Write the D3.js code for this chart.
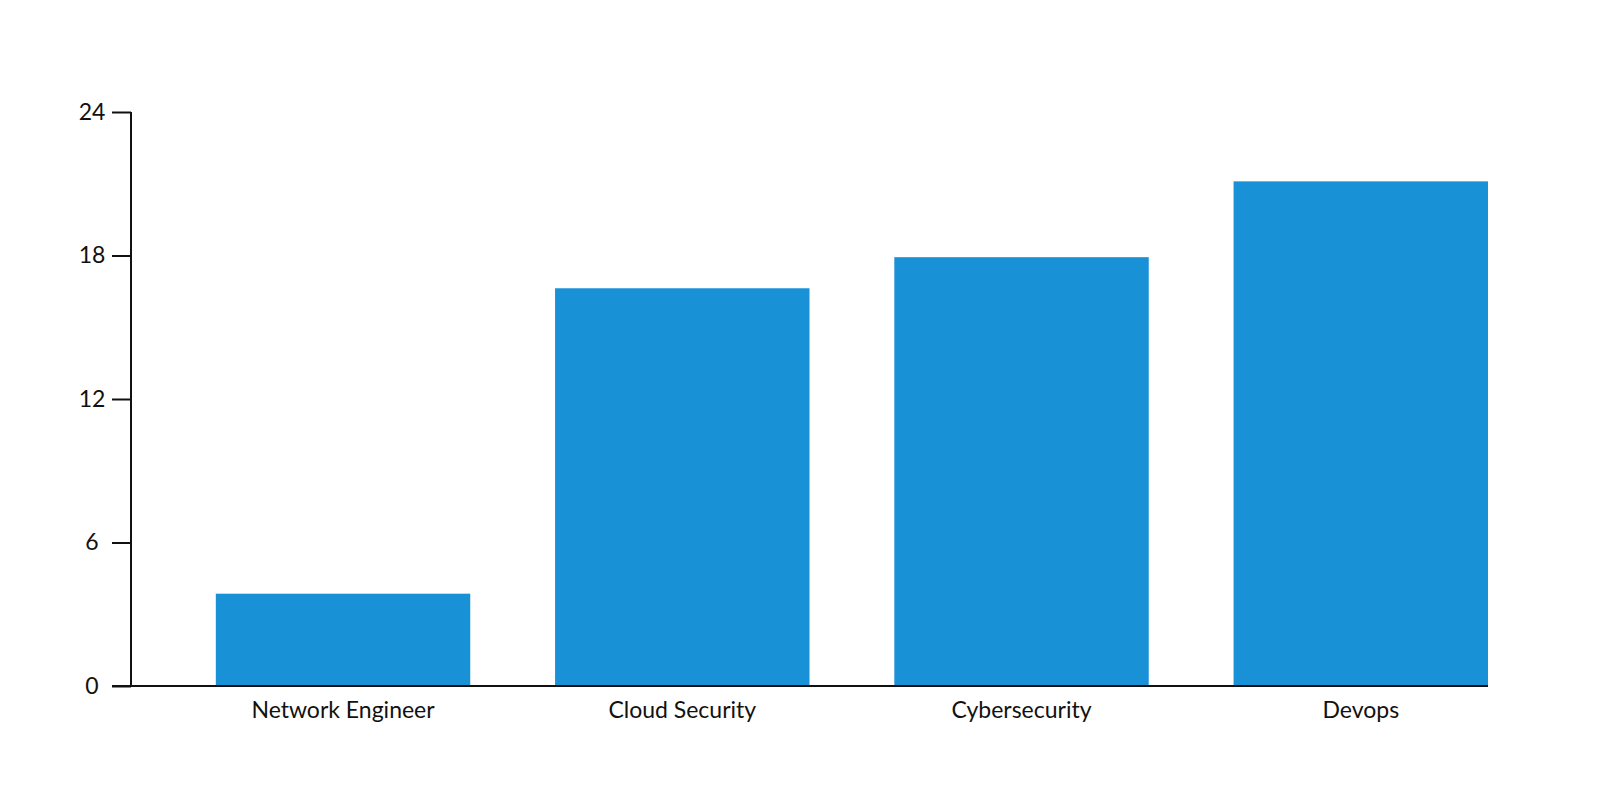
<!DOCTYPE html>
<html>
<head>
<meta charset="utf-8">
<script src="https://cdn.jsdelivr.net/npm/d3@7"></script>
<style>
  html, body { margin: 0; padding: 0; background: #fff; }
  svg { display: block; font-family: Lato, "Open Sans", sans-serif; }
</style>
</head>
<body>
<svg id="chart" width="1600" height="800"></svg>
<script>
// ── 資料 ──────────────────────────────────────────────
const categories = ["Network Engineer", "Cloud Security", "Cybersecurity", "Devops"];
const values     = [3.86, 16.63, 17.93, 21.1];
const yTicks     = [0, 6, 12, 18, 24];

const BAR_COLOR  = "#1991d7";
const INK        = "#111";
const FONT_SIZE  = 23;

const svg = d3.select("#chart");

// 版面：y 軸在 x=131，x 軸在 y=686
const AXIS_X = 131, AXIS_R = 1488;
const Y0 = 686, Y24 = 112;

const x = d3.scaleBand()
  .domain(categories)
  .range([AXIS_X, AXIS_R])
  .paddingInner(0.25)
  .paddingOuter(0.125)
  .align(1);

const y = d3.scaleLinear()
  .domain([0, 24])
  .range([Y0, Y24]);

// ── 長條 ──
svg.append("g")
  .selectAll("rect")
  .data(categories.map((c, i) => ({ c, v: values[i] })))
  .join("rect")
  .attr("x", d => x(d.c))
  .attr("width", x.bandwidth())
  .attr("y", d => y(d.v))
  .attr("height", d => y(0) - y(d.v) - 1)
  .attr("fill", BAR_COLOR);

// ── y 軸 ──
const yAxis = svg.append("g")
  .attr("transform", `translate(${AXIS_X},0)`)
  .call(d3.axisLeft(y).tickValues(yTicks).tickSize(19).tickFormat(d3.format("d")));

yAxis.select(".domain")
  .attr("stroke", INK)
  .attr("stroke-width", 2)
  .attr("d", `M0,${y(24)}V${y(0)}`);
yAxis.selectAll(".tick line").attr("stroke", INK).attr("stroke-width", 2);
yAxis.selectAll(".tick text")
  .attr("text-anchor", "middle")
  .attr("x", 92 - AXIS_X)
  .attr("fill", INK)
  .style("font-size", FONT_SIZE + "px")
  .style("font-family", "Lato, sans-serif");

// ── x 軸 ──
svg.append("line")
  .attr("x1", AXIS_X - 19).attr("x2", AXIS_R)
  .attr("y1", y(0)).attr("y2", y(0))
  .attr("stroke", INK)
  .attr("stroke-width", 2);

const xAxis = svg.append("g")
  .attr("transform", `translate(0,${y(0)})`)
  .call(d3.axisBottom(x).tickSize(0).tickPadding(16));

xAxis.select(".domain").remove();
xAxis.selectAll(".tick text")
  .attr("fill", INK)
  .style("font-size", FONT_SIZE + "px")
  .style("font-family", "Lato, sans-serif");
</script>
</body>
</html>
